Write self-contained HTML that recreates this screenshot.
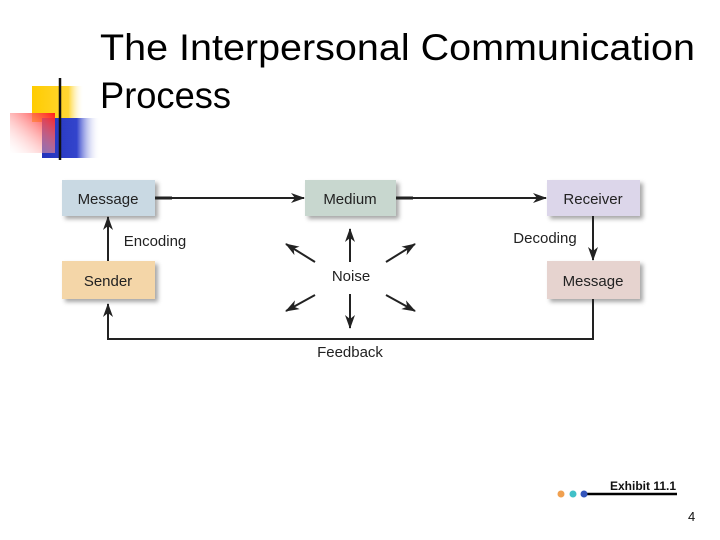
<!DOCTYPE html>
<html><head><meta charset="utf-8"><style>
body{margin:0;background:#fff}
svg{display:block}
text{font-family:"Liberation Sans",sans-serif}
</style></head><body>
<svg width="720" height="540" viewBox="0 0 720 540" xmlns="http://www.w3.org/2000/svg">
<defs>
<linearGradient id="gy" x1="0" x2="1"><stop offset="0" stop-color="#ffcc00"/><stop offset="0.7" stop-color="#ffd633"/><stop offset="1" stop-color="#fff" stop-opacity="0"/></linearGradient>
<linearGradient id="gb" x1="0" x2="1"><stop offset="0" stop-color="#2233bb"/><stop offset="0.6" stop-color="#3344cc"/><stop offset="1" stop-color="#fff" stop-opacity="0"/></linearGradient>
<linearGradient id="gr" x1="1" x2="0" y1="0" y2="1"><stop offset="0" stop-color="#ff1a1a"/><stop offset="1" stop-color="#fff" stop-opacity="0.2"/></linearGradient>
<linearGradient id="gl" x1="0" x2="1"><stop offset="0" stop-color="#333"/><stop offset="1" stop-color="#ddd"/></linearGradient>
<filter id="sh" x="-10%" y="-10%" width="130%" height="140%"><feDropShadow dx="3" dy="3" stdDeviation="2" flood-color="#000" flood-opacity="0.35"/></filter>
<marker id="ah" markerWidth="14" markerHeight="10" refX="13" refY="5" orient="auto" markerUnits="userSpaceOnUse"><path d="M0,0 L14,5 L0,10 L4,5 z" fill="#222"/></marker>
</defs>
<rect x="32" y="86" width="52" height="36" fill="url(#gy)"/>
<rect x="42" y="118" width="58" height="40" fill="url(#gb)"/>
<rect x="10" y="113" width="45" height="40" fill="url(#gr)"/>
<line x1="60" y1="78" x2="60" y2="160" stroke="#111" stroke-width="2.5"/>
<line x1="34" y1="141" x2="680" y2="141" stroke="url(#gl)" stroke-width="2.5"/>
<text x="100" y="60" font-size="37" fill="#000" textLength="595" lengthAdjust="spacingAndGlyphs">The Interpersonal Communication</text>
<text x="100" y="108" font-size="37" fill="#000" textLength="131" lengthAdjust="spacingAndGlyphs">Process</text>

<g filter="url(#sh)">
<rect x="62" y="180" width="93" height="36" fill="#c9d9e3"/>
<rect x="305" y="180" width="91" height="36" fill="#c8d7cf"/>
<rect x="547" y="180" width="93" height="36" fill="#dcd6ea"/>
<rect x="62" y="261" width="93" height="38" fill="#f4d6a8"/>
<rect x="547" y="261" width="93" height="38" fill="#e6d3cf"/>
</g>
<g font-size="15" fill="#222" text-anchor="middle">
<text x="108" y="204">Message</text>
<text x="350" y="204">Medium</text>
<text x="593" y="204">Receiver</text>
<text x="108" y="286">Sender</text>
<text x="593" y="286">Message</text>
<text x="351" y="281">Noise</text>
<text x="350" y="357">Feedback</text>
<text x="155" y="246">Encoding</text>
<text x="545" y="243">Decoding</text>
</g>
<g stroke="#222" stroke-width="3">
<line x1="155" y1="198" x2="172" y2="198"/>
<line x1="396" y1="198" x2="413" y2="198"/>
</g>
<g stroke="#222" stroke-width="2" fill="none" marker-end="url(#ah)">
<line x1="155" y1="198" x2="304" y2="198"/>
<line x1="396" y1="198" x2="546" y2="198"/>
<line x1="108" y1="261" x2="108" y2="217"/>
<line x1="593" y1="216" x2="593" y2="260"/>
<polyline points="593,299 593,339 108,339 108,304"/>
<line x1="350" y1="262" x2="350" y2="229"/>
<line x1="350" y1="294" x2="350" y2="328"/>
<line x1="315" y1="262" x2="286" y2="244"/>
<line x1="386" y1="262" x2="415" y2="244"/>
<line x1="315" y1="295" x2="286" y2="311"/>
<line x1="386" y1="295" x2="415" y2="311"/>
</g>
<text x="610" y="490" font-size="12" font-weight="bold" fill="#111">Exhibit 11.1</text>
<line x1="585" y1="494" x2="677" y2="494" stroke="#000" stroke-width="2.5"/>
<circle cx="561" cy="494" r="3.5" fill="#f0a050"/>
<circle cx="573" cy="494" r="3.5" fill="#40c0c8"/>
<circle cx="584" cy="494" r="3.5" fill="#3355bb"/>
<text x="688" y="521" font-size="13" fill="#111">4</text>
</svg>
</body></html>
